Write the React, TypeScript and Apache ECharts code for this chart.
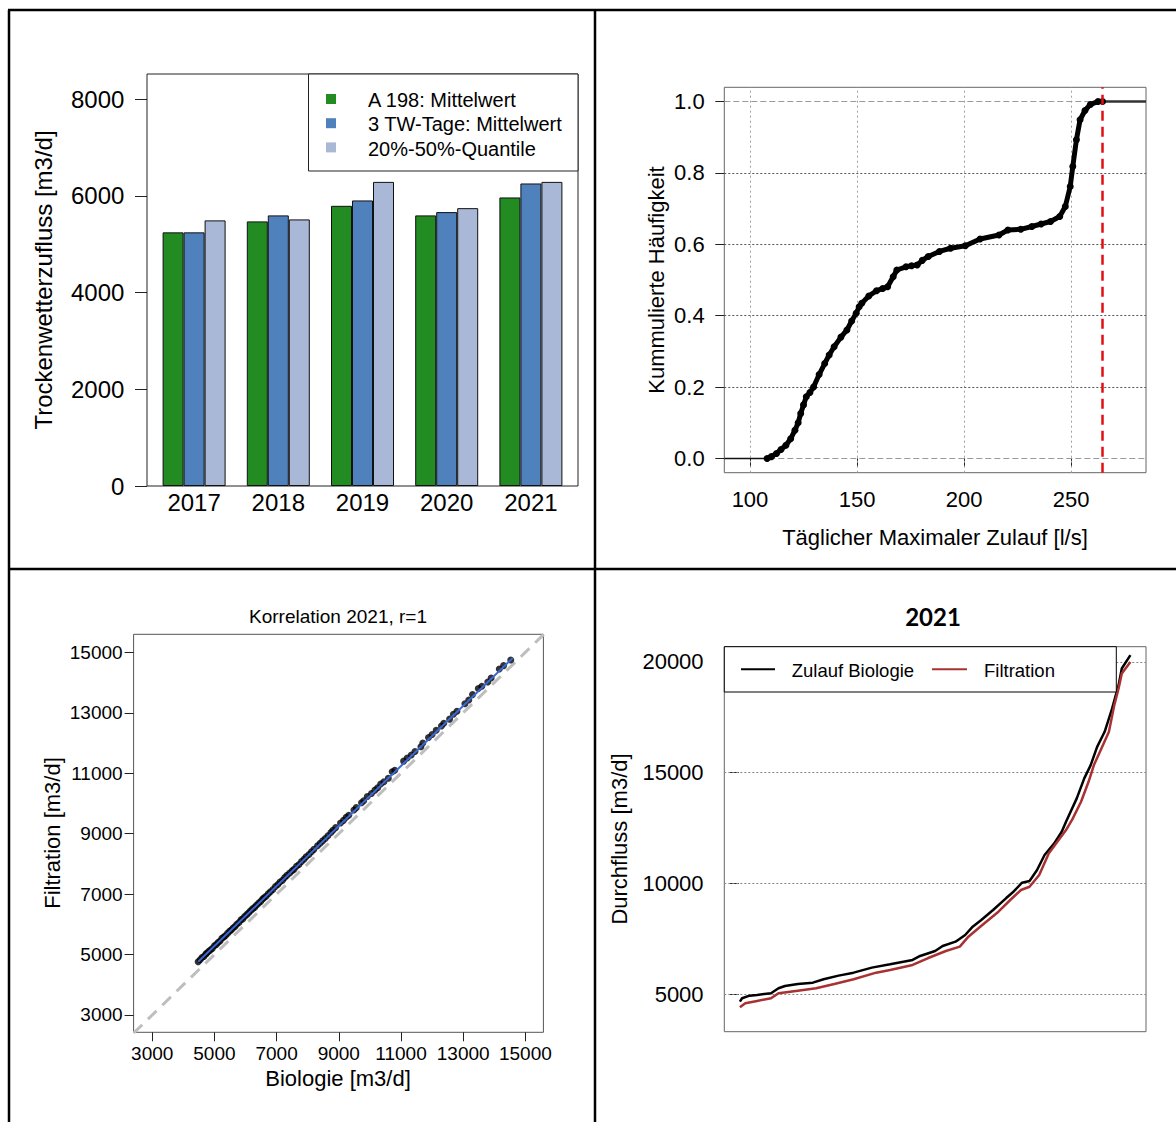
import React, { useEffect, useRef } from "react";
import * as echarts from "echarts";

// ---------- Panel 1: Trockenwetterzufluss ----------
const years = ["2017", "2018", "2019", "2020", "2021"];
const a198Mean = [5245, 5472, 5794, 5596, 5967];
const twDaysMean = [5245, 5596, 5905, 5664, 6256];
const quantile2050 = [5493, 5513, 6289, 5746, 6289];
const barNames = ["A 198: Mittelwert", "3 TW-Tage: Mittelwert", "20%-50%-Quantile"];
const barColors = ["#228B22", "#4F81BD", "#A9B8D7"];
const barTicks = [0, 2000, 4000, 6000, 8000];
const barYMax = 8520;

// ---------- Panel 2: ECDF täglicher Maximalzulauf ----------
const ecdfX = [108, 110, 112.4, 114.5, 116.8, 119, 121, 122.5, 123.7, 125, 126.3, 128, 129.7, 132.3, 134.9, 137, 139.3, 142.5, 145.3, 147.5, 149.6, 151, 152.2, 155.5, 159.1, 162, 164.3, 166.9, 168.6, 172.9, 175.5, 178.1, 180.5, 183.3, 188.5, 193.7, 200.6, 207.5, 216.3, 220.5, 226.5, 231.7, 236, 240.4, 244.7, 247.3, 249.6, 250.8, 252.5, 254.2, 256.5, 259, 262.6, 264.7];
const ecdfF = [0.0, 0.005, 0.014, 0.025, 0.037, 0.055, 0.079, 0.1, 0.126, 0.15, 0.173, 0.185, 0.2, 0.235, 0.266, 0.29, 0.313, 0.34, 0.36, 0.385, 0.407, 0.425, 0.435, 0.455, 0.47, 0.476, 0.481, 0.509, 0.528, 0.537, 0.54, 0.542, 0.555, 0.566, 0.58, 0.589, 0.596, 0.615, 0.626, 0.64, 0.642, 0.65, 0.657, 0.664, 0.678, 0.706, 0.762, 0.818, 0.893, 0.949, 0.975, 0.992, 1.0, 1.0];
const ecdfLowTail = [88, 108];
const ecdfHighTail = [264.7, 285];
const ecdfLimit = 264.7;
const ecdfXRange = [88, 285];
const ecdfYRange = [-0.04, 1.04];
const ecdfXTicks = [100, 150, 200, 250];
const ecdfYTicks = [0, 0.2, 0.4, 0.6, 0.8, 1.0];

// ---------- Panel 3: Korrelation ----------
const biologie = [4476, 4540, 4600, 4660, 4720, 4749, 4810, 4870, 4930, 5000, 5060, 5116, 5180, 5240, 5300, 5350, 5420, 5486, 5540, 5600, 5660, 5720, 5790, 5855, 5910, 5970, 6040, 6100, 6160, 6225, 6290, 6350, 6420, 6490, 6550, 6595, 6660, 6730, 6800, 6880, 6961, 7040, 7110, 7190, 7260, 7331, 7420, 7500, 7560, 7640, 7720, 7800, 7880, 7948, 8040, 8120, 8200, 8315, 8400, 8480, 8563, 8650, 8746, 8810, 8900, 9055, 9150, 9238, 9320, 9486, 9560, 9730, 9800, 9916, 10050, 10161, 10250, 10347, 10450, 10592, 10717, 10800, 11084, 11200, 11331, 11450, 11640, 11701, 11885, 12000, 12132, 12300, 12376, 12563, 12685, 12800, 13055, 13180, 13300, 13486, 13600, 13791, 13900, 14161, 14300, 14530];
const filtration = [4762, 4830, 4900, 4935, 5010, 5040, 5100, 5150, 5200, 5290, 5330, 5400, 5450, 5540, 5580, 5620, 5700, 5770, 5810, 5880, 5930, 6000, 6060, 6150, 6180, 6260, 6320, 6380, 6450, 6510, 6560, 6630, 6700, 6760, 6840, 6880, 6930, 7010, 7080, 7150, 7250, 7320, 7400, 7460, 7550, 7620, 7700, 7770, 7820, 7920, 7980, 8080, 8150, 8237, 8310, 8400, 8480, 8600, 8680, 8760, 8840, 8930, 9040, 9110, 9200, 9350, 9440, 9540, 9610, 9780, 9860, 10020, 10090, 10230, 10330, 10440, 10520, 10640, 10720, 10831, 11050, 11100, 11400, 11500, 11601, 11720, 11876, 12000, 12180, 12280, 12420, 12560, 12650, 12790, 12950, 13050, 13300, 13420, 13600, 13800, 13880, 14020, 14150, 14450, 14560, 14745];
const fitBio = [4476, 14600];
const fitFil = [4760, 14815];
const identityRange = [2400, 15600];
const corrXRange = [2400, 15580];
const corrYRange = [2427, 15596];
const corrTicks = [3000, 5000, 7000, 9000, 11000, 13000, 15000];

// ---------- Panel 4: Dauerlinie 2021 ----------
const bioRank = [1, 3, 10, 17, 30, 37, 43, 55, 69, 79, 93, 107, 124, 141, 162, 169, 183, 190, 202, 211, 218, 226, 237, 249, 256, 264, 271, 278, 285, 294, 301, 305, 315, 322, 328, 334, 341, 348, 354, 357, 365];
const bioFlow = [4666, 4820, 4937, 4970, 5045, 5270, 5374, 5464, 5523, 5676, 5839, 5974, 6200, 6352, 6546, 6727, 6952, 7178, 7372, 7674, 8048, 8350, 8801, 9328, 9626, 10032, 10108, 10604, 11280, 11808, 12331, 12782, 13837, 14738, 15338, 16163, 16840, 17895, 18945, 19698, 20298];
const filRank = [1, 6, 17, 30, 37, 55, 72, 89, 107, 128, 141, 162, 176, 193, 206, 214, 225, 242, 253, 263, 271, 280, 289, 305, 311, 319, 326, 331, 338, 345, 350, 354, 357, 365];
const filFlow = [4414, 4594, 4698, 4820, 5045, 5162, 5270, 5464, 5676, 5974, 6096, 6321, 6623, 6952, 7146, 7597, 8048, 8724, 9252, 9703, 9851, 10379, 11357, 12407, 12900, 13684, 14586, 15338, 16091, 16840, 18044, 18797, 19472, 19995];
const flowXRange = [-13.56, 379.56];
const flowYRange = [3310, 20680];
const flowTicks = [5000, 10000, 15000, 20000];
const flowNames = ["Zulauf Biologie", "Filtration"];
const flowColors = ["#000000", "#A83232"];

const FONT = '"Liberation Sans", Arial, Helvetica, sans-serif';

const inList = (list: number[], v: number) => list.some((t) => Math.abs(t - v) < 1e-6);

function valueAxis(o: {
  gridIndex: number;
  range: number[];
  ticks?: number[];
  show?: boolean;
  fontSize?: number;
  margin?: number;
  tickLen?: number;
  fmt?: (v: number) => string;
}) {
  const ticks = o.ticks || [];
  const has = ticks.length > 0;
  const ax: any = {
    type: "value",
    gridIndex: o.gridIndex,
    min: o.range[0],
    max: o.range[1],
    show: o.show !== false,
    axisLine: { show: false },
    splitLine: { show: false },
    axisTick: { show: has, length: o.tickLen ?? 9, lineStyle: { color: "#222", width: 1 } },
    axisLabel: {
      show: has,
      fontSize: o.fontSize ?? 22,
      fontFamily: FONT,
      color: "#000",
      margin: o.margin ?? 10,
      formatter: (v: number) => (inList(ticks, v) ? (o.fmt ? o.fmt(v) : String(v)) : ""),
    },
  };
  if (has) {
    ax.axisTick.customValues = ticks;
    ax.axisLabel.customValues = ticks;
  }
  return ax;
}

function gLine(x1: number, y1: number, x2: number, y2: number, stroke: string, w: number) {
  return { type: "line", z: 100, silent: true, shape: { x1, y1, x2, y2 }, style: { stroke, lineWidth: w } };
}
function gText(x: number, y: number, t: string, size: number, opt: any = {}) {
  return {
    type: "text",
    z: 100,
    silent: true,
    x,
    y,
    rotation: opt.rot ? Math.PI / 2 : 0,
    style: {
      text: t,
      fontSize: size,
      fontFamily: opt.family || FONT,
      fontWeight: opt.weight || "normal",
      fill: "#000",
      align: opt.align || "center",
      verticalAlign: "middle",
      textAlign: opt.align || "center",
      textVerticalAlign: "middle",
    },
  };
}
function gRect(x: number, y: number, w: number, h: number, fill: string, stroke: string | null, lw = 1) {
  return {
    type: "rect",
    z: 100,
    silent: true,
    shape: { x, y, width: w, height: h },
    style: { fill, stroke: stroke || undefined, lineWidth: stroke ? lw : 0 },
  };
}

function buildOption(): any {
  const barData = [a198Mean, twDaysMean, quantile2050];

  const series: any[] = [];
  barData.forEach((d, i) => {
    series.push({
      type: "bar",
      name: barNames[i],
      xAxisIndex: 0,
      yAxisIndex: 0,
      data: d,
      barWidth: 21,
      barGap: "0%",
      itemStyle: { color: barColors[i], borderColor: "#111", borderWidth: 1 },
    });
  });

  // ECDF panel
  series.push({
    type: "line",
    xAxisIndex: 1,
    yAxisIndex: 1,
    data: ecdfLowTail.map((x) => [x, 0]),
    symbol: "none",
    lineStyle: { color: "#111", width: 1.5 },
    z: 2,
    markLine: {
      silent: true,
      symbol: "none",
      z: 1,
      label: { show: false },
      data: [
        ...ecdfXTicks.map((v) => ({ xAxis: v, lineStyle: { color: "#a0a0a0", type: [2, 3], width: 1 } })),
        ...ecdfYTicks
          .filter((v) => v > 0 && v < 1)
          .map((v) => ({ yAxis: v, lineStyle: { color: "#555", type: [2, 2], width: 1 } })),
        { yAxis: 0, lineStyle: { color: "#9a9a9a", type: [6, 3], width: 1 } },
        { yAxis: 1, lineStyle: { color: "#9a9a9a", type: [6, 3], width: 1 } },
      ],
    },
  });
  series.push({
    type: "line",
    xAxisIndex: 1,
    yAxisIndex: 1,
    data: ecdfX.map((x, i) => [x, ecdfF[i]]),
    symbol: "circle",
    symbolSize: 7,
    showSymbol: true,
    lineStyle: { color: "#000", width: 5 },
    itemStyle: { color: "#000" },
    z: 3,
  });
  series.push({
    type: "line",
    xAxisIndex: 1,
    yAxisIndex: 1,
    data: ecdfHighTail.map((x) => [x, 1]),
    symbol: "none",
    lineStyle: { color: "#333", width: 2.5 },
    z: 3,
    markLine: {
      silent: true,
      symbol: "none",
      z: 6,
      label: { show: false },
      data: [{ xAxis: ecdfLimit, lineStyle: { color: "#E01010", type: [10, 6], width: 2.5 } }],
    },
  });

  // Correlation panel
  series.push({
    type: "line",
    xAxisIndex: 2,
    yAxisIndex: 2,
    data: identityRange.map((v) => [v, v]),
    symbol: "none",
    lineStyle: { color: "#BEBEBE", width: 3, type: [12, 8] },
    z: 1,
  });
  series.push({
    type: "scatter",
    xAxisIndex: 2,
    yAxisIndex: 2,
    data: biologie.map((x, i) => [x, filtration[i]]),
    symbolSize: 7,
    itemStyle: { color: "#000" },
    z: 2,
  });
  series.push({
    type: "line",
    xAxisIndex: 2,
    yAxisIndex: 2,
    data: fitBio.map((x, i) => [x, fitFil[i]]),
    symbol: "none",
    lineStyle: { color: "#3A68D8", width: 2 },
    z: 4,
  });

  // Flow duration panel
  series.push({
    type: "line",
    name: flowNames[0],
    xAxisIndex: 3,
    yAxisIndex: 3,
    data: bioRank.map((r, i) => [r, bioFlow[i]]),
    symbol: "none",
    lineStyle: { color: flowColors[0], width: 2.5 },
    z: 3,
    markLine: {
      silent: true,
      symbol: "none",
      z: 1,
      label: { show: false },
      data: flowTicks.map((v) => ({ yAxis: v, lineStyle: { color: "#888", type: [2, 2], width: 1 } })),
    },
  });
  series.push({
    type: "line",
    name: flowNames[1],
    xAxisIndex: 3,
    yAxisIndex: 3,
    data: filRank.map((r, i) => [r, filFlow[i]]),
    symbol: "none",
    lineStyle: { color: flowColors[1], width: 2.5 },
    z: 3,
  });

  const graphics: any[] = [
    // table borders
    gLine(8, 10, 1176, 10, "#000", 2.5),
    gLine(9, 10, 9, 1122, "#000", 2.5),
    gLine(595, 10, 595, 1122, "#000", 2.5),
    gLine(8, 569, 1176, 569, "#000", 2.5),
    // panel 1
    gText(43, 280, "Trockenwetterzufluss [m3/d]", 24, { rot: true }),
    gRect(308.5, 74, 269.5, 97, "#fff", "#222", 1),
    ...barNames.map((_, i) => gRect(326, 94 + i * 24.2, 10, 10, barColors[i], null)),
    ...barNames.map((n, i) => gText(368, 100 + i * 24.3, n, 20, { align: "left" })),
    // panel 2
    gText(935, 537, "Täglicher Maximaler Zulauf [l/s]", 22),
    gText(656, 280, "Kummulierte Häufigkeit", 22, { rot: true }),
    // panel 3
    gText(338, 616.5, "Korrelation 2021, r=1", 19),
    gText(52, 833, "Filtration [m3/d]", 22, { rot: true }),
    gText(338, 1078, "Biologie [m3/d]", 22),
    // panel 4
    gText(933, 616, "2021", 24, { family: "Lato, 'Open Sans', sans-serif", weight: "bold" }),
    gText(619, 839, "Durchfluss [m3/d]", 22, { rot: true }),
    gRect(724.3, 646.7, 392, 45.3, "#fff", "#000", 1),
    gLine(741, 669.3, 775, 669.3, flowColors[0], 2),
    gText(791.7, 670, flowNames[0], 18.5, { align: "left" }),
    gLine(932, 669.3, 967, 669.3, flowColors[1], 2),
    gText(984, 670, flowNames[1], 18.5, { align: "left" }),
  ];

  return {
    animation: false,
    backgroundColor: "#fff",
    textStyle: { fontFamily: FONT },
    grid: [
      { left: 152, top: 74, width: 421, height: 412 },
      { left: 724.3, top: 87.3, width: 421.7, height: 385.4, show: true, borderColor: "#666", borderWidth: 1 },
      { left: 133.6, top: 634.3, width: 409.8, height: 398, show: true, borderColor: "#555", borderWidth: 1 },
      { left: 724.3, top: 646.7, width: 421.7, height: 385, show: true, borderColor: "#666", borderWidth: 1 },
      { left: 147, top: 74, width: 431, height: 412, show: true, borderColor: "#222", borderWidth: 1 },
    ],
    xAxis: [
      {
        type: "category",
        gridIndex: 0,
        data: years,
        axisLine: { show: false },
        axisTick: { show: false },
        axisLabel: { fontSize: 24, fontFamily: FONT, color: "#000", margin: 4 },
      },
      valueAxis({ gridIndex: 1, range: ecdfXRange, ticks: ecdfXTicks, fontSize: 22, margin: 16, tickLen: 8 }),
      valueAxis({ gridIndex: 2, range: corrXRange, ticks: corrTicks, fontSize: 19, margin: 12, tickLen: 9 }),
      valueAxis({ gridIndex: 3, range: flowXRange, show: false }),
      valueAxis({ gridIndex: 4, range: [0, 1], show: false }),
    ],
    yAxis: [
      valueAxis({ gridIndex: 0, range: [0, barYMax], show: false }),
      valueAxis({ gridIndex: 1, range: ecdfYRange, ticks: ecdfYTicks, fontSize: 22, margin: 19.6, tickLen: 9, fmt: (v) => v.toFixed(1) }),
      valueAxis({ gridIndex: 2, range: corrYRange, ticks: corrTicks, fontSize: 19, margin: 11, tickLen: 9 }),
      valueAxis({ gridIndex: 3, range: flowYRange, ticks: flowTicks, fontSize: 22, margin: 20.7, tickLen: 9 }),
      valueAxis({ gridIndex: 4, range: [0, barYMax], ticks: barTicks, fontSize: 24, margin: 22.6, tickLen: 12 }),
    ],
    series,
    graphic: { elements: graphics },
  };
}

export default function App() {
  const ref = useRef<HTMLDivElement>(null);
  useEffect(() => {
    if (!ref.current) return;
    const chart = echarts.init(ref.current, null, { renderer: "svg" });
    chart.setOption(buildOption());
    return () => chart.dispose();
  }, []);
  return (
    <div
      ref={ref}
      style={{ position: "absolute", left: 0, top: 0, width: 1176, height: 1122, background: "#fff" }}
    />
  );
}
